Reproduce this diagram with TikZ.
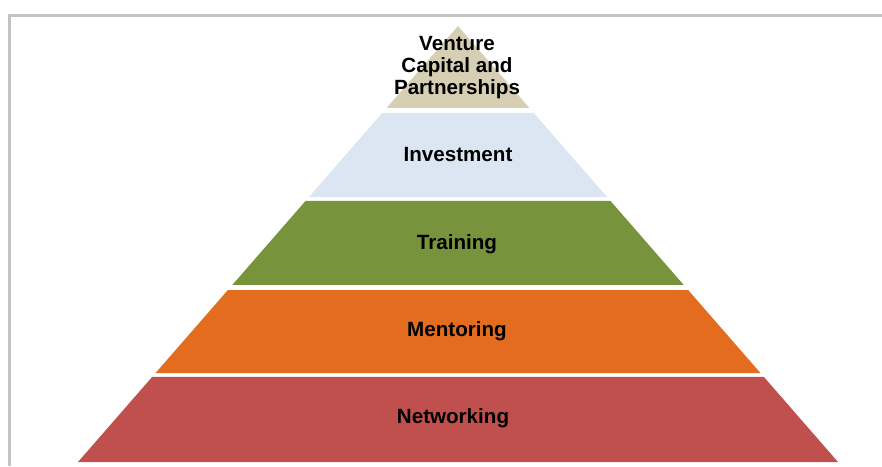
\documentclass[tikz,border=0pt]{standalone}
\usepackage{fontspec}
\setmainfont{Liberation Sans}
\usetikzlibrary{calc}
\definecolor{frame}{HTML}{C3C3C3}
\definecolor{tan}{HTML}{D6CFB4}
\definecolor{ice}{HTML}{DCE6F2}
\definecolor{olive}{HTML}{77933C}
\definecolor{pumpkin}{HTML}{E36C1E}
\definecolor{brick}{HTML}{C0504D}
\begin{document}
\begin{tikzpicture}[x=1pt,y=-1pt,
  label/.style={font=\fontsize{20.6}{21.6}\selectfont\bfseries,align=center,inner sep=0pt}]
  \useasboundingbox (0,0) rectangle (882,466);
  \draw[line width=3pt,frame] (9.5,466)--(9.5,15.5)--(882,15.5);
  \coordinate(top) at (458,26);
  \coordinate(left) at (78,462);
  \coordinate(right) at (838,462);
  \foreach \a/\b/\c in {0/0.188/tan,0.1995/0.392/ice,0.401/0.594/olive,0.6055/0.796/pumpkin,0.805/1/brick}
    \fill[\c] ($(top)!\a!(left)$)--($(top)!\b!(left)$)--($(top)!\b!(right)$)--($(top)!\a!(right)$)--cycle;
  \node[label](4) at (457,67.5){Venture\\Capital and\\Partnerships};
  \node[label,anchor=base](3) at (458,161){Investment};
  \node[label,anchor=base](2) at (457,249){Training};
  \node[label,anchor=base](1) at (457,336){Mentoring};
  \node[label,anchor=base](0) at (453,423){Networking};
\end{tikzpicture}
\end{document}
